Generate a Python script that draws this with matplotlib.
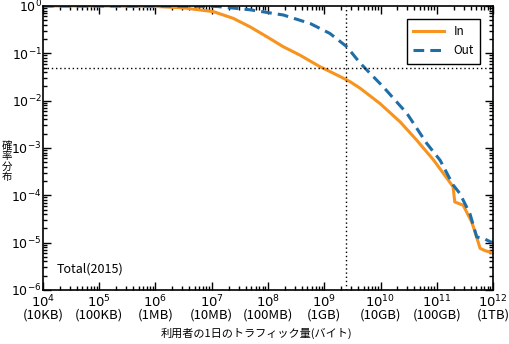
#CDF of per-user daily traffic, In vs Out (2015)

import matplotlib
matplotlib.use("Agg")
import matplotlib.pyplot as plt
from matplotlib.ticker import LogLocator, NullFormatter, FixedLocator

plt.rcParams['font.family'] = ['Noto Sans CJK JP', 'DejaVu Sans']

# log10(bytes), log10(probability)
in_logx = [4.0, 5.0, 6.0, 6.5, 7.03, 7.38, 7.68, 7.98, 8.27, 8.57, 8.92, 9.28, 9.46, 9.64, 9.99, 10.35, 10.64, 10.94, 11.12, 11.29, 11.32, 11.47, 11.62, 11.68, 11.77, 11.86, 11.95, 12.0]
in_logy = [0.0, 0.0, -0.01, -0.04, -0.12, -0.26, -0.44, -0.65, -0.86, -1.04, -1.28, -1.49, -1.60, -1.74, -2.06, -2.45, -2.83, -3.25, -3.54, -3.82, -4.14, -4.21, -4.56, -4.77, -5.12, -5.17, -5.20, -5.22]
out_logx = [4.0, 5.0, 6.0, 7.09, 7.68, 8.27, 8.75, 9.10, 9.40, 9.64, 10.05, 10.47, 10.82, 11.06, 11.29, 11.41, 11.59, 11.71, 11.83, 11.95, 12.0]
out_logy = [0.0, 0.0, 0.0, -0.01, -0.08, -0.19, -0.37, -0.58, -0.86, -1.21, -1.71, -2.27, -2.90, -3.26, -3.78, -3.96, -4.39, -4.88, -4.91, -4.98, -5.0]

x_ticks = [1e4, 1e5, 1e6, 1e7, 1e8, 1e9, 1e10, 1e11, 1e12]
x_units = ['10KB', '100KB', '1MB', '10MB', '100MB', '1GB', '10GB', '100GB', '1TB']
y_ticks = [1e-6, 1e-5, 1e-4, 1e-3, 1e-2, 1e-1, 1e0]

vline_x = 2.4e9
hline_y = 0.05

fig = plt.figure(figsize=(5.1, 3.44), dpi=100)
ax = fig.add_axes([0.0843, 0.157, 0.8824, 0.8256])

ax.plot([10 ** v for v in in_logx], [10 ** v for v in in_logy], color='#f7931e', lw=2.2, label='In')
ax.plot([10 ** v for v in out_logx], [10 ** v for v in out_logy], color='#1f6ea8', lw=2.2, ls=(0, (3.5, 2)), label='Out')
ax.axvline(vline_x, color='black', lw=1, ls=(0, (1, 2)))
ax.axhline(hline_y, color='black', lw=1, ls=(0, (1, 2)))

ax.set_xscale('log')
ax.set_yscale('log')
ax.set_xlim(1e4, 1e12)
ax.set_ylim(1e-6, 1e0)

ax.xaxis.set_major_locator(FixedLocator(x_ticks))
ax.set_xticklabels(['$10^{%d}$\n(%s)' % (i + 4, u) for i, u in enumerate(x_units)], fontsize=9.5, linespacing=0.85)
ax.yaxis.set_major_locator(FixedLocator(y_ticks))
ax.set_yticklabels(['$10^{%d}$' % (i - 6) for i in range(len(y_ticks))], fontsize=9)
ax.xaxis.set_minor_locator(LogLocator(base=10, subs=range(2, 10), numticks=20))
ax.yaxis.set_minor_locator(LogLocator(base=10, subs=range(2, 10), numticks=20))
ax.xaxis.set_minor_formatter(NullFormatter())
ax.yaxis.set_minor_formatter(NullFormatter())
ax.tick_params(which='both', direction='in', top=True, right=True, width=1)
ax.tick_params(which='major', length=6)
ax.tick_params(axis='x', which='major', pad=2.5)
ax.tick_params(axis='y', which='major', pad=1)
ax.tick_params(which='minor', length=3)
for s in ax.spines.values():
    s.set_linewidth(1.2)

ax.text(0.03, 0.06, 'Total(2015)', transform=ax.transAxes, fontsize=9)
fig.text(0.013, 0.53, '\n'.join('確率分布'), fontsize=7.5, ha='center', va='center', linespacing=1.05)
fig.text(0.502, 0.03, '利用者の1日のトラフィック量(バイト)', fontsize=8, ha='center', va='center')

leg = ax.legend(loc='upper right', fontsize=8.5, fancybox=False, framealpha=1,
                edgecolor='black', handlelength=2.6, borderpad=0.55, labelspacing=0.5,
                bbox_to_anchor=(0.985, 0.975))
leg.get_frame().set_linewidth(1)

fig.savefig('out.png', dpi=100)
